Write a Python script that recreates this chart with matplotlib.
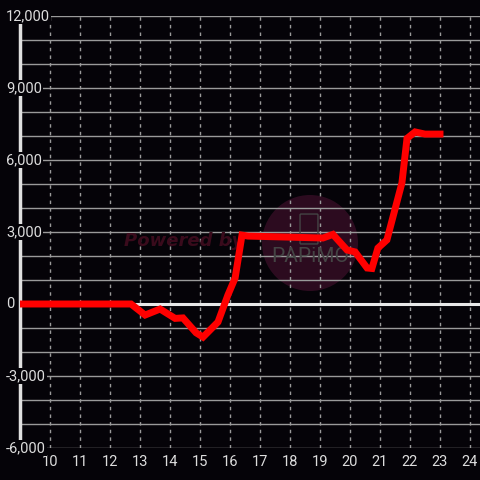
import numpy as np
import matplotlib.pyplot as plt
from matplotlib.patches import Circle, FancyBboxPatch

# データ
hours = [9.0, 12.7, 13.17, 13.67, 14.17, 14.43, 14.87, 15.1, 15.6, 15.93, 16.17,
         16.4, 16.6, 19.1, 19.43, 19.9, 20.17, 20.57, 20.73, 20.93, 21.23,
         21.73, 21.9, 22.17, 22.5, 23.0]
values = [0, 0, -460, -210, -600, -580, -1200, -1380, -750, 375, 1080,
          2870, 2830, 2750, 2900, 2250, 2170, 1500, 1480, 2330, 2670,
          5040, 6900, 7170, 7080, 7080]
x_ticks = list(range(10, 25))
y_ticks = [-6000, -3000, 0, 3000, 6000, 9000, 12000]

bg = '#050308'
plt.rcParams['font.family'] = ['Roboto', 'DejaVu Sans']

fig = plt.figure(figsize=(4.8, 4.8), dpi=100, facecolor=bg)
ax = fig.add_axes([20/480, 32/480, 460/480, 432/480], facecolor=bg)
ax.set_xlim(9, 9 + 460/30)
ax.set_ylim(-6000, 12000)

# グリッド
for yv in range(-6000, 12001, 1000):
    ax.axhline(yv, color='#9a9a9a', lw=1, zorder=1)
for xv in x_ticks:
    ax.axvline(xv, color='#9a9a9a', lw=1, ls=(0, (2.5, 3)), zorder=1)
ax.axhline(0, color='#e8e8e8', lw=2.2, zorder=2)

# 透かし
ax.add_patch(Circle((310/480, 1 - 243/480), 48/480, transform=fig.transFigure,
                    facecolor='#3a0f28', alpha=0.75, edgecolor='none', zorder=0.5))
ax.add_patch(FancyBboxPatch((301/480, 1 - 243/480), 16/480, 28/480,
                            boxstyle='round,pad=0.002', transform=fig.transFigure,
                            facecolor='none', edgecolor='#444444', lw=1, zorder=3))
ax.text(124/480, 1 - 241/480, 'Powered by', color='#3a0b1c', fontsize=13,
        fontstyle='italic', fontweight='bold', va='center', ha='left',
        family=['DejaVu Sans'], transform=fig.transFigure, zorder=3)
ax.text(310/480, 1 - 256/480, 'PAPiMO', color='#444444', fontsize=15,
        va='center', ha='center', transform=fig.transFigure, zorder=3)

ax.plot(hours, values, color='#ff0000', lw=5, solid_joinstyle='miter', zorder=5)

for s in ['top', 'right', 'bottom']:
    ax.spines[s].set_visible(False)
ax.spines['left'].set_color('#e0e0e0')
ax.spines['left'].set_linewidth(2.5)
ax.spines['left'].set_bounds(-6000, 11700)

ax.set_xticks(x_ticks)
ax.set_xticklabels([str(t) for t in x_ticks])
ax.tick_params(axis='x', length=0, pad=5, labelsize=10.5, colors='#dddddd')
ax.set_yticks([])

for yv in y_ticks:
    yf = (32 + (yv + 6000) / 18000 * 432) / 480
    fig.text(6/480, yf, f'{yv:,}', color='#dddddd', fontsize=10.5, ha='left', va='center',
             bbox=dict(facecolor=bg, edgecolor='none', pad=0.8), zorder=10)

fig.savefig('out.png', dpi=100, facecolor=bg)
